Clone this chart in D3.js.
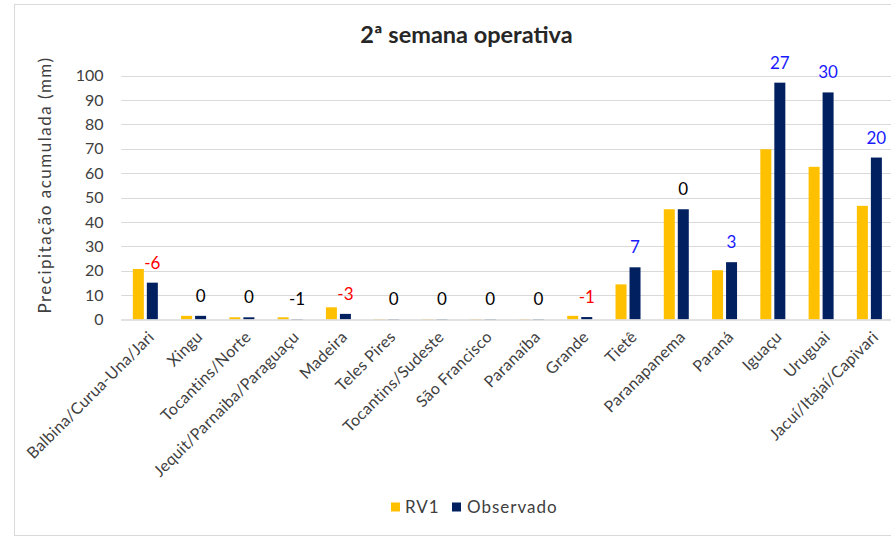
<!DOCTYPE html>
<html><head><meta charset="utf-8">
<script src="https://cdn.jsdelivr.net/npm/d3@7"></script>
<style>
body{margin:0;background:#fff;}
svg{display:block;font-family:Lato,"Open Sans",sans-serif;}
</style></head>
<body><svg id="c" width="891" height="537"></svg>
<script>
const categories = ["Balbina/Curua-Una/Jari","Xingu","Tocantins/Norte","Jequit/Parnaiba/Paraguaçu","Madeira","Teles Pires","Tocantins/Sudeste","São Francisco","Paranaíba","Grande","Tietê","Paranapanema","Paraná","Iguaçu","Uruguai","Jacuí/Itajaí/Capivari"];
const rv1 = [20.7, 1.5, 0.9, 0.9, 5.0, 0.2, 0.2, 0.2, 0.2, 1.5, 14.4, 45.2, 20.2, 69.8, 62.6, 46.6];
const observado = [15.1, 1.5, 0.9, 0.2, 2.3, 0.2, 0.2, 0.2, 0.2, 1.0, 21.4, 45.2, 23.5, 97.1, 93.1, 66.4];
const diffLabels = [-6, 0, 0, -1, -3, 0, 0, 0, 0, -1, 7, 0, 3, 27, 30, 20];
// label tone as shown in the source: "neg" red, "pos" blue, "neu" black
const diffTone = ["neg","neu","neu","neu","neg","neu","neu","neu","neu","neg","pos","neu","pos","pos","pos","pos"];
const yTicks = [0,10,20,30,40,50,60,70,80,90,100];
const seriesNames = ["RV1","Observado"];
const colors = ["#FFC000","#002060"];
const toneColor = {neg:"#ff0000", pos:"#1a1aff", neu:"#000000"};

const svg = d3.select("#c");
svg.append("rect").attr("x",14.5).attr("y",4.5).attr("width",900).attr("height",531)
  .attr("fill","#fff").attr("stroke","#d9d9d9").attr("stroke-width",1);

const x = d3.scaleBand().domain(categories).range([121.2, 893.5]).padding(0);
const y = d3.scaleLinear().domain([0,100]).range([319.5, 75.6]);

svg.append("g").selectAll("line").data(yTicks.filter(d=>d>0)).join("line")
  .attr("x1",121.2).attr("x2",893.5).attr("y1",d=>Math.round(y(d))+0.5).attr("y2",d=>Math.round(y(d))+0.5)
  .attr("stroke","#d9d9d9").attr("stroke-width",1);

svg.append("g").selectAll("text").data(yTicks).join("text")
  .attr("x",103.5).attr("y",d=>y(d)).attr("dy","0.35em").attr("text-anchor","end")
  .attr("font-size",16).attr("fill","#404040").text(d=>d);

const bw = 11, gap = 3;
[rv1, observado].forEach((vals,si)=>{
  svg.append("g").selectAll("rect").data(vals).join("rect")
    .attr("x",(d,i)=>x(categories[i]) + x.bandwidth()/2 + (si===0 ? -gap/2 - bw : gap/2))
    .attr("width",bw)
    .attr("y",d=>y(d)).attr("height",d=>y(0)-y(d))
    .attr("fill",colors[si]);
});

svg.append("line").attr("x1",121.2).attr("x2",893.5).attr("y1",320).attr("y2",320)
  .attr("stroke","#d9d9d9").attr("stroke-width",1.5);

svg.append("g").selectAll("text").data(diffLabels).join("text")
  .attr("x",(d,i)=>x(categories[i]) + x.bandwidth()/2 + gap/2 + bw/2)
  .attr("y",(d,i)=>y(observado[i]) - 20).attr("dy","0.35em").attr("text-anchor","middle")
  .attr("font-size",17)
  .attr("fill",(d,i)=>toneColor[diffTone[i]])
  .text(d=>d);

svg.append("g").selectAll("text").data(categories).join("text")
  .attr("transform",d=>`translate(${x(d)+x.bandwidth()/2+6},${334}) rotate(-45)`)
  .attr("text-anchor","end").attr("dy","0.35em")
  .attr("font-size",16).attr("letter-spacing",0.3).attr("fill","#404040").text(d=>d);

svg.append("text").attr("x",466.5).attr("y",35).attr("dy","0.35em").attr("text-anchor","middle")
  .attr("font-size",23.5).attr("font-weight","bold").attr("fill","#262626").text("2ª semana operativa");

svg.append("text").attr("transform","translate(51,185) rotate(-90)").attr("text-anchor","middle")
  .attr("font-size",17).attr("letter-spacing",1.5).attr("fill","#404040").text("Precipitação acumulada (mm)");

const leg = svg.append("g");
const legX = [391, 452], legTX = [405, 467];
seriesNames.forEach((n,i)=>{
  leg.append("rect").attr("x",legX[i]).attr("y",502.5).attr("width",9).attr("height",9).attr("fill",colors[i]);
  leg.append("text").attr("x",legTX[i]).attr("y",507).attr("dy","0.35em").attr("font-size",17)
    .attr("letter-spacing",1).attr("fill","#404040").text(n);
});
</script></body></html>
